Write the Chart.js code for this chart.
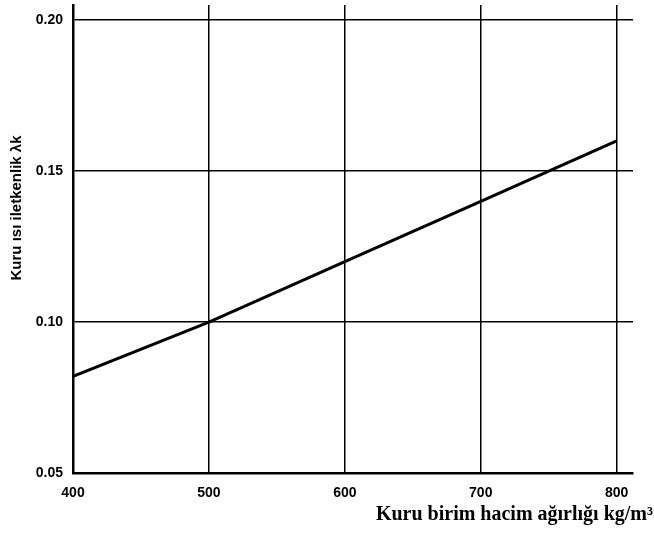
<!DOCTYPE html>
<html>
<head>
<meta charset="utf-8">
<script src="https://cdn.jsdelivr.net/npm/chart.js@4"></script>
<style>
  body { margin: 0; background: #fff; }
  canvas { display: block; }
</style>
</head>
<body>
<canvas id="chart" width="654" height="533"></canvas>
<script>
// density values (kg/m3) and dry thermal conductivity
const densities = [400, 500, 600, 700, 800];
const conductivity = [0.082, 0.100, 0.120, 0.140, 0.160];

// tick labels
const xTicks = [400, 500, 600, 700, 800];
const yTicks = [0.05, 0.10, 0.15, 0.20];

const xTitle = 'Kuru birim hacim ağırlığı kg/m³';
const yTitle = 'Kuru ısı iletkenlik λk';

// titles are placed by hand (x one is right aligned past the plot area)
const titlePlugin = {
    id: 'titles',
    afterDraw(chart) {
        const ctx = chart.ctx;
        ctx.save();
        ctx.fillStyle = '#000';
        ctx.font = 'bold 15px "Liberation Sans"';
        ctx.translate(17, 208);
        ctx.rotate(-Math.PI / 2);
        ctx.textAlign = 'center';
        ctx.textBaseline = 'middle';
        ctx.fillText(yTitle, 0, 0);
        ctx.restore();

        ctx.save();
        ctx.fillStyle = '#000';
        ctx.font = 'bold 20px "Liberation Serif"';
        ctx.textAlign = 'right';
        ctx.textBaseline = 'alphabetic';
        ctx.fillText(xTitle, 653, 520);
        ctx.restore();
    }
};

const ctx = document.getElementById('chart').getContext('2d');

new Chart(ctx, {
    type: 'line',
    data: {
        datasets: [{
            data: densities.map((d, i) => ({ x: d, y: conductivity[i] })),
            borderColor: '#000',
            borderWidth: 3,
            pointRadius: 0,
            fill: false,
            tension: 0
        }]
    },
    options: {
        responsive: false,
        animation: false,
        layout: { padding: { top: 5, right: 21, left: 0, bottom: 0 } },
        plugins: {
            legend: { display: false },
            tooltip: { enabled: false }
        },
        scales: {
            x: {
                type: 'linear',
                min: 400,
                max: 812,
                afterBuildTicks: (scale) => { scale.ticks = xTicks.map(v => ({ value: v })); },
                afterFit: (scale) => {
                    scale.height = 60;
                    scale.paddingLeft = 0;
                    scale.paddingRight = 0;
                },
                ticks: {
                    color: '#000',
                    font: { family: '"Liberation Sans"', size: 14, weight: 'bold' },
                    padding: 12,
                    maxRotation: 0
                },
                grid: {
                    color: '#000',
                    lineWidth: 1.5,
                    drawTicks: false
                },
                border: { display: true, color: '#000', width: 2.5 }
            },
            y: {
                type: 'linear',
                min: 0.05,
                max: 0.205,
                afterBuildTicks: (scale) => { scale.ticks = yTicks.map(v => ({ value: v })); },
                afterFit: (scale) => {
                    scale.width = 73;
                    scale.paddingTop = 0;
                    scale.paddingBottom = 0;
                },
                ticks: {
                    color: '#000',
                    font: { family: '"Liberation Sans"', size: 14, weight: 'bold' },
                    padding: 10,
                    callback: (v) => v.toFixed(2)
                },
                grid: {
                    color: '#000',
                    lineWidth: 1.5,
                    drawTicks: false
                },
                border: { display: true, color: '#000', width: 2.5 }
            }
        }
    },
    plugins: [titlePlugin]
});
</script>
</body>
</html>
